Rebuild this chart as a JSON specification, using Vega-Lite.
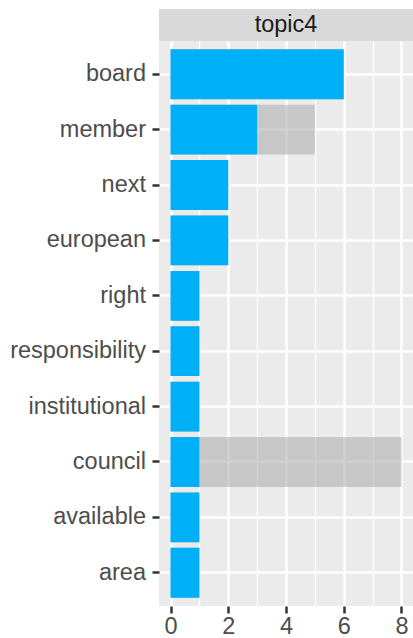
{
  "$schema": "https://vega.github.io/schema/vega-lite/v6.json",
  "padding": {"left": 9, "top": 9, "right": 0, "bottom": 0},
  "background": "white",
  "bounds": "flush",
  "spacing": 0,
  "config": {"view": {"stroke": null}, "font": "Liberation Sans"},
  "vconcat": [
    {
      "width": 254,
      "height": 32,
      "view": {"fill": "#D9D9D9", "stroke": null},
      "data": {"values": [{"topic": "topic4"}]},
      "mark": {"type": "text", "fontSize": 23.5, "color": "#1A1A1A", "font": "Liberation Sans", "baseline": "middle", "align": "center"},
      "encoding": {"text": {"field": "topic"}}
    },
    {
      "width": 254,
      "height": 565,
      "view": {"fill": "#EBEBEB", "stroke": null},
      "data": {
        "values": [
          {"word": "board", "n": 6, "total": 6},
          {"word": "member", "n": 3, "total": 5},
          {"word": "next", "n": 2, "total": 2},
          {"word": "european", "n": 2, "total": 2},
          {"word": "right", "n": 1, "total": 1},
          {"word": "responsibility", "n": 1, "total": 1},
          {"word": "institutional", "n": 1, "total": 1},
          {"word": "council", "n": 1, "total": 8},
          {"word": "available", "n": 1, "total": 1},
          {"word": "area", "n": 1, "total": 1}
        ]
      },
      "encoding": {
        "y": {
          "field": "word",
          "type": "nominal",
          "sort": null,
          "scale": {"paddingInner": 0.1, "paddingOuter": 0.15},
          "axis": {
            "title": null,
            "domain": false,
            "grid": true,
            "bandPosition": 0.5,
            "gridColor": "white",
            "gridWidth": 2.5,
            "tickSize": 7,
            "tickWidth": 2.5,
            "tickColor": "#333333",
            "labelFontSize": 23.5,
            "labelColor": "#4D4D4D",
            "labelFont": "Liberation Sans",
            "labelPadding": 6.5
          }
        }
      },
      "layer": [
        {
          "mark": {"type": "bar", "color": "#A9A9A9", "opacity": 0.55},
          "encoding": {
            "x": {
              "field": "total",
              "type": "quantitative",
              "scale": {"domain": [-0.4, 8.4], "nice": false},
              "axis": {
                "orient": "top",
                "values": [1, 3, 5, 7],
                "grid": true,
                "gridColor": "white",
                "gridWidth": 1.3,
                "labels": false,
                "ticks": false,
                "domain": false,
                "title": null
              }
            },
            "x2": {"datum": 0}
          }
        },
        {
          "mark": {"type": "bar", "color": "#00B0F6"},
          "encoding": {
            "x": {
              "field": "n",
              "type": "quantitative",
              "axis": {
                "orient": "bottom",
                "values": [0, 2, 4, 6, 8],
                "grid": true,
                "gridColor": "white",
                "gridWidth": 2.5,
                "tickSize": 7,
                "tickWidth": 2.5,
                "tickColor": "#333333",
                "labelFontSize": 23.5,
                "labelColor": "#4D4D4D",
                "labelFont": "Liberation Sans",
                "labelPadding": 1.5,
                "domain": false,
                "title": null
              }
            },
            "x2": {"datum": 0}
          }
        }
      ],
      "resolve": {"axis": {"x": "independent"}}
    }
  ]
}
